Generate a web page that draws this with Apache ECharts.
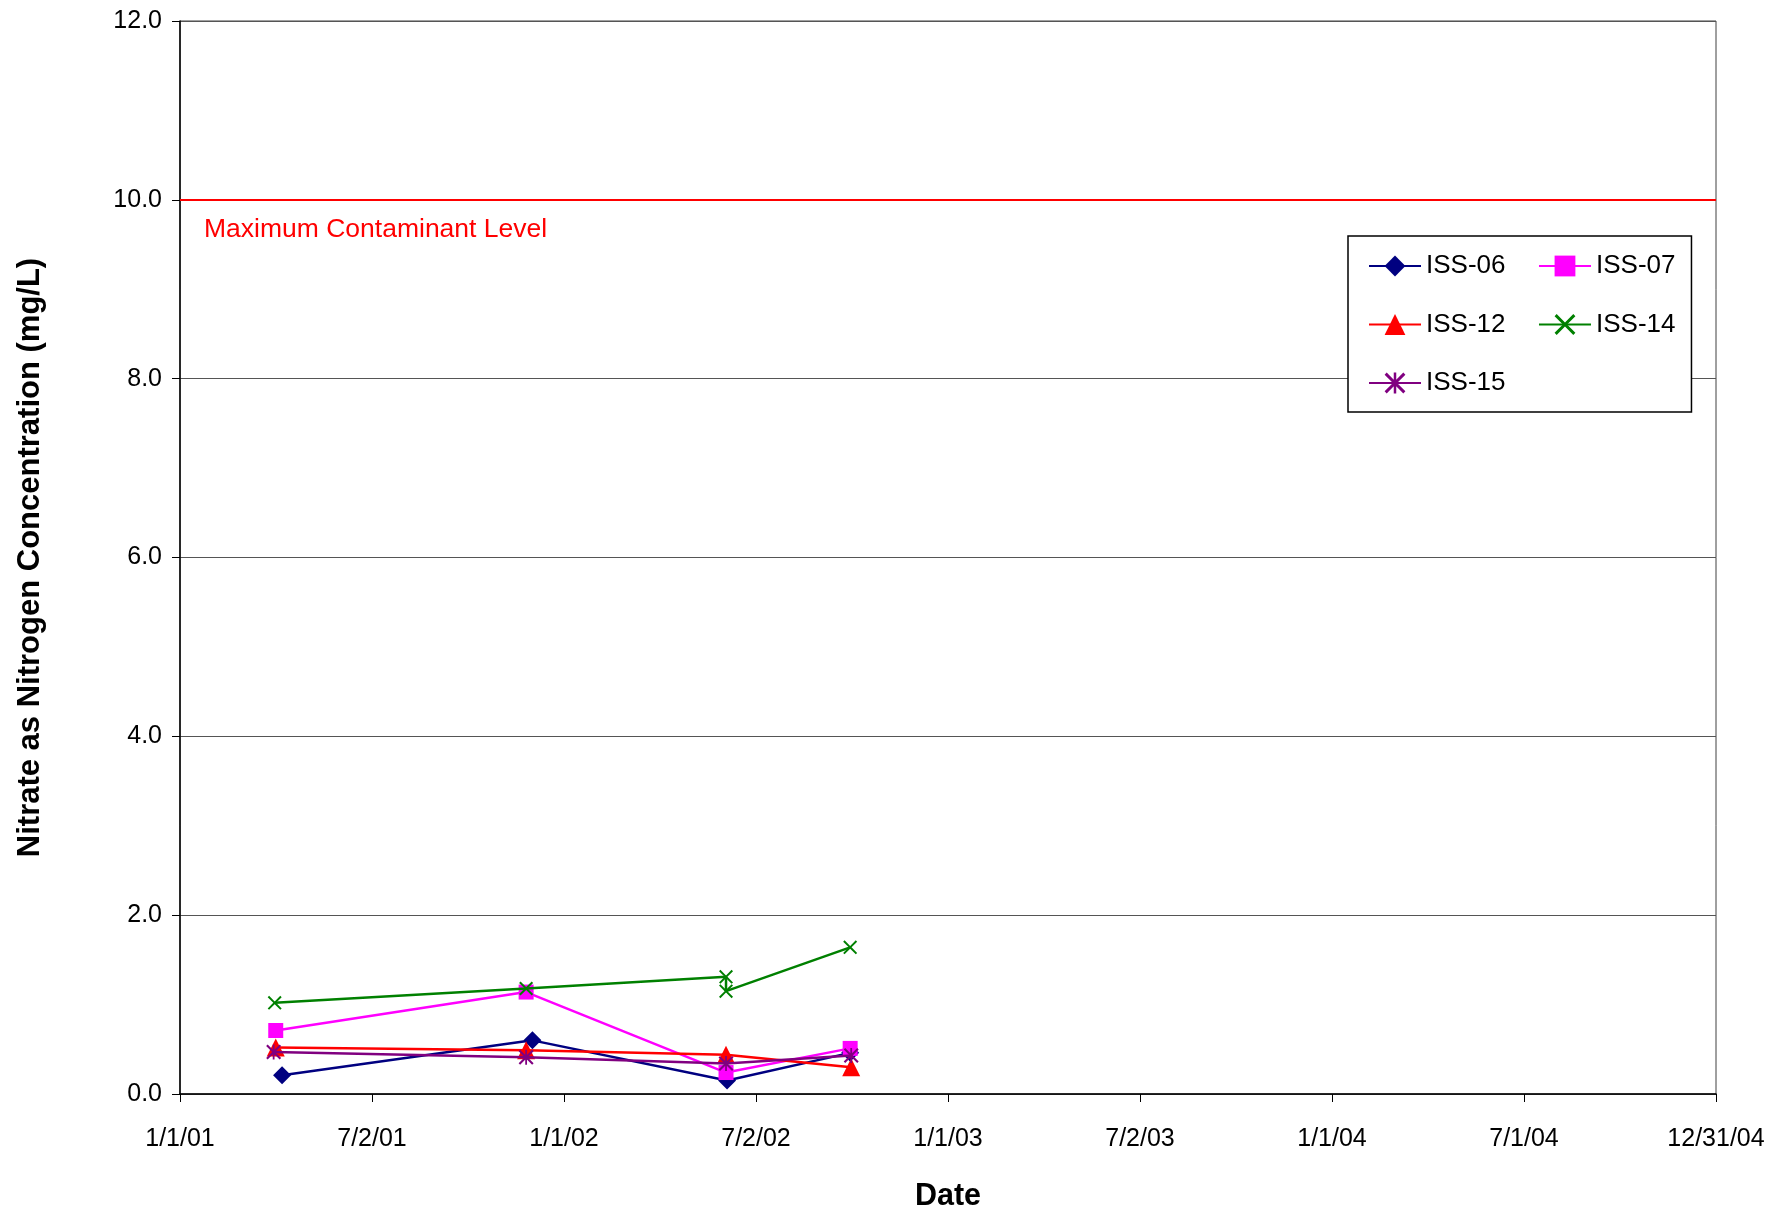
<!DOCTYPE html>
<html>
<head>
<meta charset="utf-8">
<script src="https://cdn.jsdelivr.net/npm/echarts@6/dist/echarts.min.js"></script>
<style>
html,body{margin:0;padding:0;background:#fff;}
#chart{width:1773px;height:1217px;}
</style>
</head>
<body>
<div id="chart"></div>
<script>
// ---- data ----
const seriesNames = ['ISS-06', 'ISS-07', 'ISS-12', 'ISS-14', 'ISS-15'];
const iss06 = [['2001-04-08', 0.21], ['2001-12-02', 0.60], ['2002-06-05', 0.15], ['2002-09-30', 0.46]];
const iss07 = [['2001-04-02', 0.71], ['2001-11-26', 1.14], ['2002-06-04', 0.24], ['2002-09-30', 0.51]];
const iss12 = [['2001-04-02', 0.52], ['2001-11-26', 0.49], ['2002-06-04', 0.44], ['2002-10-01', 0.30]];
const iss14 = [['2001-04-01', 1.02], ['2001-11-26', 1.18], ['2002-06-04', 1.31], ['2002-06-04', 1.15], ['2002-09-30', 1.64]];
const iss15 = [['2001-03-31', 0.47], ['2001-11-26', 0.41], ['2002-06-04', 0.34], ['2002-10-01', 0.43]];
const mcl = 10.0;
const mclLabel = 'Maximum Contaminant Level';
const xStart = '2001-01-01';
const xEnd = '2004-12-31';
const yTitle = 'Nitrate as Nitrogen Concentration (mg/L)';
const xTitle = 'Date';

// ---- helpers ----
const DAY = 86400000;
const t0 = Date.parse(xStart + 'T00:00:00Z');
function toDays(s) { return (Date.parse(s + 'T00:00:00Z') - t0) / DAY; }
function conv(arr) { return arr.map(p => [toDays(p[0]), p[1]]); }
function fmtDate(v) {
  const d = new Date(t0 + v * DAY);
  return (d.getUTCMonth() + 1) + '/' + d.getUTCDate() + '/' + String(d.getUTCFullYear()).slice(2);
}
const xMax = toDays(xEnd);

const X_PATH = 'path://M0,1L1,0L5,4L9,0L10,1L6,5L10,9L9,10L5,6L1,10L0,9L4,5Z';
const STAR_PATH = 'path://M0,1L1,0L5,4L9,0L10,1L6,5L10,9L9,10L5,6L1,10L0,9L4,5ZM4.4,0L5.6,0L5.6,10L4.4,10Z';

const styles = [
  { color: '#000080', symbol: 'diamond', size: 18 },
  { color: '#FF00FF', symbol: 'rect', size: 15 },
  { color: '#FF0000', symbol: 'triangle', size: 18 },
  { color: '#008000', symbol: X_PATH, size: 14 },
  { color: '#800080', symbol: STAR_PATH, size: 15 }
];
const datasets = [iss06, iss07, iss12, iss14, iss15];

const series = seriesNames.map((name, i) => ({
  name: name,
  type: 'line',
  data: conv(datasets[i]),
  symbol: styles[i].symbol,
  symbolSize: styles[i].size,
  showAllSymbol: true,
  lineStyle: { color: styles[i].color, width: 2.5 },
  itemStyle: { color: styles[i].color },
  emphasis: { disabled: true },
  animation: false,
  z: 3 + i
}));

series[0].markLine = {
  silent: true,
  symbol: 'none',
  animation: false,
  lineStyle: { color: '#FF0000', width: 2, type: 'solid' },
  label: {
    show: true,
    position: 'insideStartBottom',
    formatter: mclLabel,
    color: '#FF0000',
    fontSize: 26.5,
    fontFamily: 'Liberation Sans',
    distance: [24, 16]
  },
  data: [{ yAxis: mcl }]
};

const font = 'Liberation Sans';
const option = {
  backgroundColor: '#ffffff',
  animation: false,
  grid: {
    left: 180, right: 57, top: 21, bottom: 112,
    show: true, borderColor: '#404040', borderWidth: 1
  },
  legend: {
    data: seriesNames,
    left: 1348, top: 236,
    width: 310,
    orient: 'horizontal',
    padding: [17, 16, 16, 20],
    itemGap: 32.5,
    itemWidth: 52,
    itemHeight: 26,
    borderColor: '#000', borderWidth: 1.5,
    backgroundColor: '#fff',
    textStyle: { fontSize: 26, fontFamily: font, color: '#000', lineHeight: 23 },
    selectedMode: false
  },
  xAxis: {
    type: 'value',
    min: 0, max: xMax, interval: 182.5,
    name: xTitle,
    nameLocation: 'middle',
    nameGap: 87,
    nameTextStyle: { fontSize: 30.5, fontWeight: 'bold', fontFamily: font, color: '#000' },
    axisLine: { show: true, lineStyle: { color: '#000', width: 1.5 } },
    axisTick: { show: true, length: 8, lineStyle: { color: '#000' } },
    axisLabel: { formatter: fmtDate, fontSize: 25, fontFamily: font, color: '#000', margin: 33 },
    splitLine: { show: false }
  },
  yAxis: {
    type: 'value',
    min: 0, max: 12, interval: 2,
    name: yTitle,
    nameLocation: 'middle',
    nameGap: 134,
    nameTextStyle: { fontSize: 31, fontWeight: 'bold', fontFamily: font, color: '#000' },
    axisLine: { show: true, lineStyle: { color: '#000', width: 1.5 } },
    axisTick: { show: true, length: 8, lineStyle: { color: '#000' } },
    axisLabel: { formatter: v => v.toFixed(1), fontSize: 25, fontFamily: font, color: '#000', margin: 18 },
    splitLine: { show: true, lineStyle: { color: '#555', width: 1 } }
  },
  series: series
};

const chart = echarts.init(document.getElementById('chart'), null, { renderer: 'canvas' });
chart.setOption(option);
</script>
</body>
</html>
